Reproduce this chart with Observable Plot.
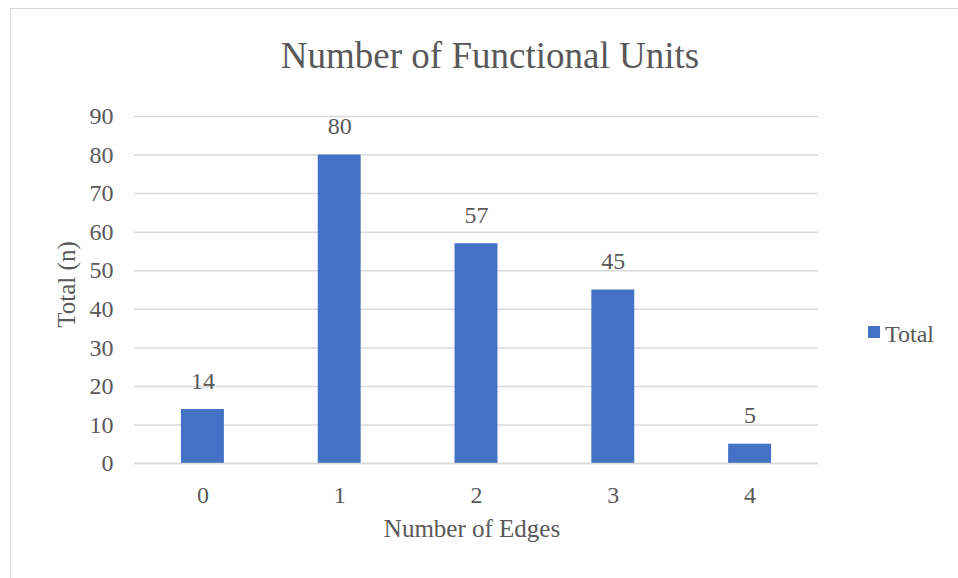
<!DOCTYPE html>
<html>
<head>
<meta charset="utf-8">
<script src="https://cdn.jsdelivr.net/npm/d3@7"></script>
<script src="https://cdn.jsdelivr.net/npm/@observablehq/plot@0.6"></script>
<style>
  html, body { margin: 0; padding: 0; background: #fff; }
  #wrap { position: relative; width: 958px; height: 578px; overflow: hidden; background: #fff; }
  #border { position: absolute; left: 10px; top: 8px; width: 980px; height: 600px; border: 1px solid #d9d9d9; box-sizing: border-box; }
  #chart { position: absolute; left: 0; top: 0; }
  #overlay { position: absolute; left: 0; top: 0; pointer-events: none; }
  text { font-family: "Liberation Serif", "Times New Roman", serif; }
</style>
</head>
<body>
<div id="wrap">
  <div id="border"></div>
  <div id="chart"></div>
  <svg id="overlay" width="958" height="578"></svg>
</div>
<script>
const categories = ["0", "1", "2", "3", "4"];
const totals = [14, 80, 57, 45, 5];
const yTicks = [0, 10, 20, 30, 40, 50, 60, 70, 80, 90];
const chartTitle = "Number of Functional Units";
const xTitle = "Number of Edges";
const yTitle = "Total (n)";
const seriesName = "Total";

const barColor = "#4472C4";
const textColor = "#595959";
const gridColor = "#d9d9d9";
const fontFamily = '"Liberation Serif", "Times New Roman", serif';

const data = categories.map((c, i) => ({edges: c, total: totals[i]}));

const W = 958, H = 578;
const mL = 134, mR = 140, mT = 116, mB = 115;

const chart = Plot.plot({
  width: W,
  height: H,
  marginLeft: mL,
  marginRight: mR,
  marginTop: mT,
  marginBottom: mB,
  style: {fontFamily, color: textColor, background: "transparent", overflow: "visible"},
  x: {domain: categories, paddingInner: 0.686, paddingOuter: 0.343, align: 0.5, round: false},
  y: {domain: [0, 90]},
  marks: [
    Plot.gridY(yTicks, {stroke: gridColor, strokeOpacity: 1, strokeWidth: 1.5}),
    Plot.barY(data, {x: "edges", y: "total", fill: barColor}),
    Plot.ruleY([0], {stroke: gridColor, strokeWidth: 1.5}),
    Plot.axisY(yTicks, {tickSize: 0, tickPadding: 21, fontSize: 24, fill: textColor, label: null}),
    Plot.axisX({tickSize: 0, tickPadding: 22, fontSize: 24, fill: textColor, label: null}),
    Plot.text(data, {x: "edges", y: "total", text: d => String(d.total), lineAnchor: "bottom", dy: -21, fontSize: 24, fill: textColor})
  ]
});
document.getElementById("chart").appendChild(chart);

// Overlay: title, axis titles, legend
const ov = d3.select("#overlay");
const cx = mL + (W - mL - mR) / 2;
const cy = mT + (H - mT - mB) / 2;

ov.append("text")
  .attr("x", 490).attr("y", 68)
  .attr("text-anchor", "middle")
  .attr("font-size", 37)
  .attr("fill", textColor)
  .text(chartTitle);

ov.append("text")
  .attr("x", cx - 4).attr("y", 537)
  .attr("text-anchor", "middle")
  .attr("font-size", 25)
  .attr("fill", textColor)
  .text(xTitle);

ov.append("text")
  .attr("transform", `translate(75,${cy - 5}) rotate(-90)`)
  .attr("text-anchor", "middle")
  .attr("font-size", 25)
  .attr("fill", textColor)
  .text(yTitle);

const lg = ov.append("g").attr("transform", "translate(868,326)");
lg.append("rect").attr("width", 12).attr("height", 12).attr("fill", barColor);
lg.append("text").attr("x", 17).attr("y", 16)
  .attr("font-size", 24).attr("fill", textColor).text(seriesName);
</script>
</body>
</html>
